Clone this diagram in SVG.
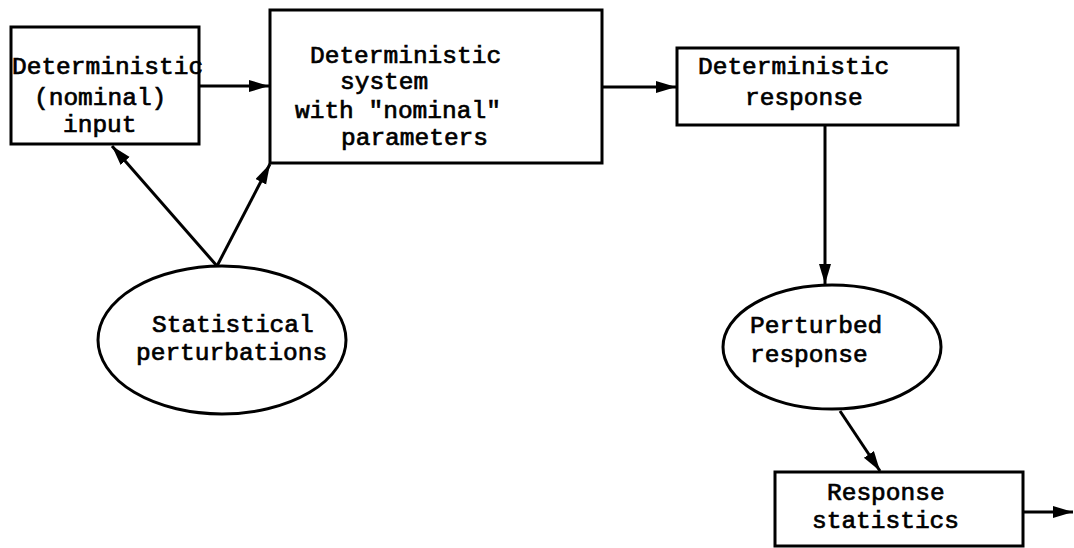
<svg xmlns="http://www.w3.org/2000/svg" width="1074" height="548" viewBox="0 0 1074 548">
<style>
.box{fill:#fff;stroke:#000;stroke-width:3}
.conn{stroke:#000;stroke-width:3;fill:none}
text{font-family:"Liberation Mono","Courier New",monospace;font-size:24.5px;fill:#000;stroke:#000;stroke-width:0.7}
</style>
<defs>
<marker id="ah" markerUnits="userSpaceOnUse" markerWidth="22" markerHeight="14" refX="20" refY="6" orient="auto">
<path d="M0,0 L20,6 L0,12 Z" fill="#000"/>
</marker>
</defs>
<g id="connectors">
<line class="conn" x1="199" y1="86" x2="269" y2="86" marker-end="url(#ah)"/>
<line class="conn" x1="602" y1="87" x2="676" y2="87" marker-end="url(#ah)"/>
<line class="conn" x1="825" y1="125" x2="825" y2="284" marker-end="url(#ah)"/>
<line class="conn" x1="217" y1="266" x2="112" y2="146" marker-end="url(#ah)"/>
<line class="conn" x1="217" y1="266" x2="270" y2="164" marker-end="url(#ah)"/>
<line class="conn" x1="840" y1="411" x2="880" y2="471" marker-end="url(#ah)"/>
<line class="conn" x1="1023" y1="512" x2="1073" y2="512" marker-end="url(#ah)"/>
</g>
<g id="input">
<rect class="box" x="11" y="27" width="188" height="117"/>
<text x="12" y="74">Deterministic</text>
<text x="34" y="105">(nominal)</text>
<text x="63" y="132">input</text>
</g>
<g id="system">
<rect class="box" x="270" y="10" width="332" height="153"/>
<text x="310" y="63">Deterministic</text>
<text x="340" y="89">system</text>
<text x="295" y="118">with "nominal"</text>
<text x="341" y="145">parameters</text>
</g>
<g id="detresponse">
<rect class="box" x="677" y="48" width="281" height="77"/>
<text x="698" y="74">Deterministic</text>
<text x="745" y="105">response</text>
</g>
<g id="perturbations">
<ellipse class="box" cx="222" cy="340" rx="124" ry="74"/>
<text x="152" y="332">Statistical</text>
<text x="136" y="360">perturbations</text>
</g>
<g id="perturbed">
<ellipse class="box" cx="832" cy="347" rx="109" ry="62"/>
<text x="750" y="333">Perturbed</text>
<text x="750" y="362">response</text>
</g>
<g id="statistics">
<rect class="box" x="775" y="472" width="248" height="74"/>
<text x="827" y="500">Response</text>
<text x="812" y="528">statistics</text>
</g>
</svg>
